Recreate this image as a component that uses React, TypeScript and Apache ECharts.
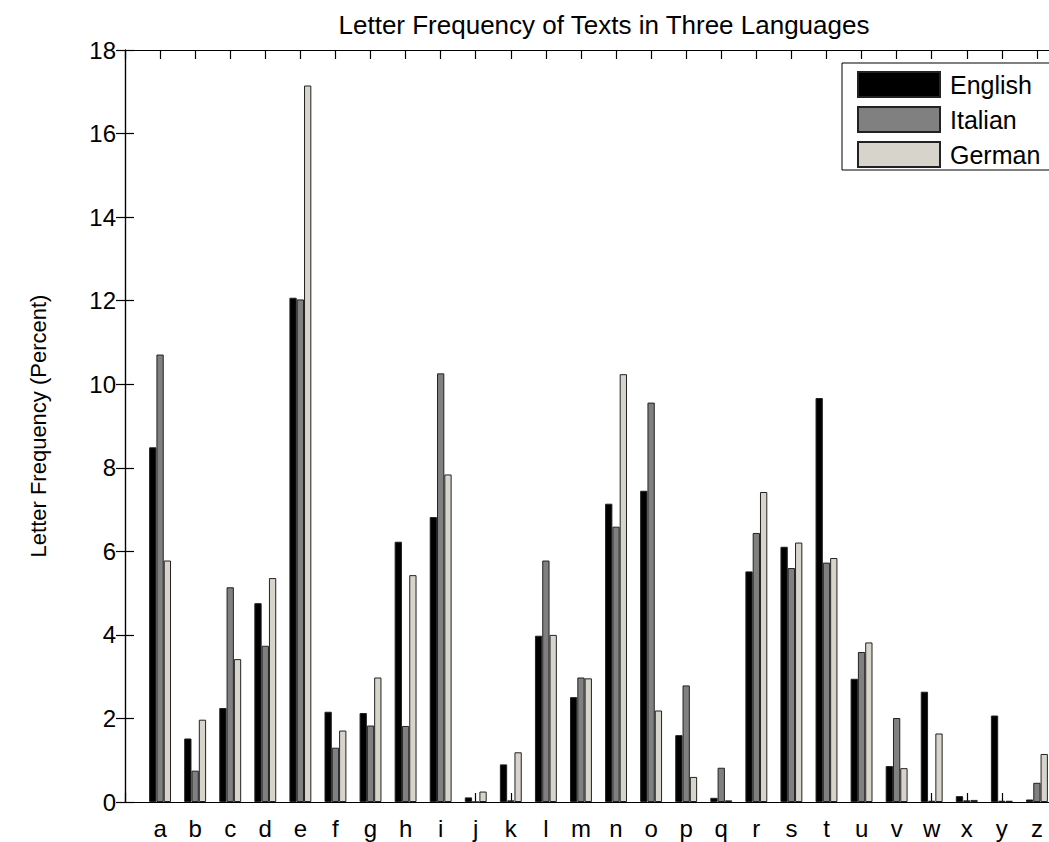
import React, { useEffect, useRef } from "react";
import * as echarts from "echarts";

const letters = ["a","b","c","d","e","f","g","h","i","j","k","l","m","n","o","p","q","r","s","t","u","v","w","x","y","z"];
const english = [8.49,1.52,2.25,4.76,12.07,2.16,2.13,6.23,6.82,0.11,0.90,3.98,2.51,7.14,7.45,1.60,0.10,5.52,6.11,9.67,2.95,0.86,2.64,0.14,2.07,0.06];
const italian = [10.71,0.75,5.14,3.74,12.03,1.30,1.83,1.82,10.26,0.0,0.04,5.78,2.98,6.59,9.56,2.79,0.82,6.44,5.60,5.73,3.59,2.01,0.03,0.04,0.03,0.46];
const german = [5.78,1.97,3.42,5.36,17.15,1.71,2.98,5.43,7.84,0.25,1.19,4.00,2.96,10.24,2.19,0.60,0.04,7.42,6.21,5.84,3.82,0.81,1.64,0.05,0.03,1.15];
const seriesNames = ["English", "Italian", "German"];
const seriesColors = ["#000000", "#808080", "#d7d4cc"];
const yTicks = { min: 0, max: 18, interval: 2 };

const FONT = "Liberation Sans";
const CHART_W = 1100;

export default function App() {
  const ref = useRef<HTMLDivElement>(null);
  useEffect(() => {
    if (!ref.current) return;
    const chart = echarts.init(ref.current, undefined, { renderer: "svg" });
    const toPairs = (arr: number[]) => arr.map((v, i) => [i + 1, v]);
    const all = [english, italian, german];
    const xCommon = {
      type: "value" as const,
      min: 0,
      max: letters.length + 1,
      interval: 1,
      splitLine: { show: false },
      axisLine: { show: true, onZero: false, lineStyle: { color: "#000", width: 1.2 } },
      axisTick: { show: true, inside: true, length: 9, lineStyle: { color: "#000", width: 1.2 } },
    };
    chart.setOption({
      animation: false,
      backgroundColor: "#ffffff",
      title: {
        text: "Letter Frequency of Texts in Three Languages",
        left: 599,
        textAlign: "center",
        top: 7,
        textStyle: { fontFamily: FONT, fontSize: 26, fontWeight: "normal", color: "#000" },
      },
      legend: {
        orient: "vertical",
        left: 842,
        top: 63,
        padding: [8, 10, 2, 15],
        itemWidth: 82,
        itemHeight: 25,
        itemGap: 8,
        icon: "rect",
        borderColor: "#000",
        borderWidth: 1,
        borderRadius: 0,
        backgroundColor: "#fff",
        data: seriesNames,
        textStyle: { fontFamily: FONT, fontSize: 25, color: "#000", padding: [0, 0, 0, 5] },
      },
      grid: { left: 125, right: CHART_W - 1072, top: 50, bottom: 40, containLabel: false },
      xAxis: [
        {
          ...xCommon,
          position: "bottom",
          axisLabel: {
            show: true,
            margin: 14,
            fontFamily: FONT,
            fontSize: 24,
            color: "#000",
            formatter: (v: number) => letters[v - 1] || "",
          },
        },
        { ...xCommon, position: "top", axisLabel: { show: false } },
      ],
      yAxis: [
        {
          type: "value",
          ...yTicks,
          position: "left",
          name: "Letter Frequency (Percent)",
          nameLocation: "middle",
          nameGap: 76,
          nameTextStyle: { fontFamily: FONT, fontSize: 22, color: "#000" },
          splitLine: { show: false },
          axisLine: { show: true, lineStyle: { color: "#000", width: 1.2 } },
          axisTick: { show: true, inside: true, length: 9, lineStyle: { color: "#000", width: 1.2 } },
          axisLabel: { fontFamily: FONT, fontSize: 24, color: "#000", margin: 9 },
        },
        {
          type: "value",
          ...yTicks,
          position: "right",
          splitLine: { show: false },
          axisLine: { show: true, lineStyle: { color: "#000", width: 1.2 } },
          axisTick: { show: true, inside: true, length: 9, lineStyle: { color: "#000", width: 1.2 } },
          axisLabel: { show: false },
        },
      ],
      series: seriesNames.map((name, k) => ({
        name,
        type: "bar",
        xAxisIndex: 0,
        yAxisIndex: 0,
        barWidth: 7.3,
        barGap: "0%",
        data: toPairs(all[k]),
        itemStyle: { color: seriesColors[k], borderColor: "#222", borderWidth: 1 },
      })),
    });
    return () => chart.dispose();
  }, []);
  return (
    <div style={{ position: "absolute", left: 0, top: 0, width: 1049, height: 842, overflow: "hidden" }}>
      <div ref={ref} style={{ width: CHART_W, height: 842 }} />
    </div>
  );
}
